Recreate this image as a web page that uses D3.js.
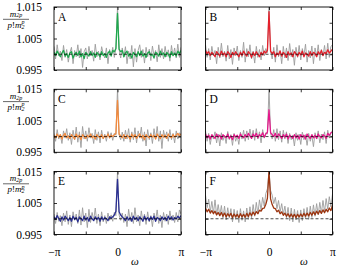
<!DOCTYPE html>
<html>
<head>
<meta charset="utf-8">
<script src="https://cdn.jsdelivr.net/npm/d3@7"></script>
<style>
  body { margin: 0; background: #fff; }
  svg { display: block; }
</style>
</head>
<body>
<div id="chart"></div>
<script>
// values sampled at 81 points from -pi to pi (index 40 is omega = 0)
const grayA = [
  1.0025,0.9985,1.0030,0.9995,1.0010,0.9980,1.0028,0.9990,1.0015,0.9975,
  1.0005,1.0022,0.9970,1.0012,0.9992,1.0030,0.9988,1.0018,0.9958,1.0008,
  1.0020,0.9985,1.0025,0.9995,1.0012,0.9978,1.0032,0.9992,1.0010,0.9982,
  1.0024,1.0002,0.9988,1.0020,0.9970,1.0015,0.9995,1.0022,0.9990,1.0018,
  1.0152,1.0015,0.9988,1.0020,0.9992,1.0024,0.9970,1.0010,0.9985,1.0028,
  0.9960,1.0018,0.9975,1.0012,1.0030,0.9990,1.0015,0.9972,1.0022,0.9992,
  1.0016,0.9980,1.0026,0.9995,1.0012,0.9976,1.0030,0.9990,1.0018,0.9985,
  1.0025,0.9992,1.0014,0.9978,1.0028,0.9994,1.0020,0.9988,1.0032,0.9990,
  1.0022
];
const greenA = [
  1.0006,0.9996,1.0010,1.0000,0.9992,1.0004,1.0012,0.9994,1.0002,0.9990,
  1.0004,1.0008,0.9988,1.0000,1.0006,0.9996,1.0010,0.9992,1.0002,0.9986,
  1.0006,1.0000,0.9994,1.0008,0.9996,1.0004,0.9990,1.0006,1.0000,0.9992,
  1.0008,0.9996,1.0002,0.9990,1.0004,1.0010,0.9994,1.0012,1.0008,1.0018,
  1.0130,1.0016,1.0008,1.0012,0.9992,1.0004,1.0010,0.9994,1.0002,0.9988,
  1.0006,1.0000,0.9992,1.0008,0.9996,1.0010,0.9994,1.0002,0.9990,1.0004,
  1.0008,0.9996,1.0000,0.9988,1.0006,1.0002,0.9994,1.0010,0.9998,1.0004,
  0.9992,1.0006,1.0000,0.9990,1.0008,0.9996,1.0004,0.9994,1.0010,1.0002,
  1.0012
];
const grayB = [
  1.0030,0.9990,1.0018,0.9982,1.0025,0.9995,1.0012,0.9970,1.0022,0.9988,
  1.0035,0.9992,1.0010,0.9978,1.0028,0.9985,1.0015,0.9968,1.0020,0.9995,
  1.0026,0.9980,1.0012,0.9990,1.0038,0.9975,1.0018,0.9992,1.0030,0.9985,
  1.0010,0.9972,1.0025,0.9990,1.0015,0.9982,1.0028,0.9995,1.0018,1.0005,
  1.0152,1.0010,0.9985,1.0022,0.9975,1.0030,0.9992,1.0012,0.9970,1.0025,
  0.9988,1.0020,0.9980,1.0034,0.9992,1.0015,0.9965,1.0022,0.9990,1.0028,
  0.9982,1.0018,0.9995,1.0032,0.9975,1.0012,0.9988,1.0026,0.9970,1.0020,
  0.9992,1.0030,0.9980,1.0015,0.9995,1.0028,0.9985,1.0035,0.9990,1.0025,
  1.0030
];
const redB = [
  1.0012,1.0002,1.0008,0.9996,1.0006,1.0000,0.9992,1.0008,1.0002,0.9994,
  1.0010,0.9998,1.0004,0.9992,1.0008,1.0002,0.9990,1.0006,0.9998,1.0008,
  1.0000,0.9992,1.0006,0.9996,1.0010,1.0000,0.9994,1.0008,1.0002,0.9990,
  1.0006,0.9996,1.0008,1.0000,0.9992,1.0006,0.9998,1.0010,1.0004,1.0012,
  1.0135,1.0010,1.0002,1.0008,0.9992,1.0004,0.9998,1.0010,0.9994,1.0006,
  1.0000,0.9990,1.0008,0.9998,1.0004,0.9992,1.0008,1.0002,0.9994,1.0006,
  0.9998,1.0010,0.9992,1.0004,1.0000,0.9994,1.0008,0.9996,1.0006,1.0002,
  0.9992,1.0008,1.0000,1.0012,0.9996,1.0006,1.0002,1.0014,1.0004,1.0010,
  1.0016
];
const grayC = [
  1.0010,0.9985,1.0022,0.9992,1.0005,0.9978,1.0018,0.9995,1.0025,0.9988,
  1.0012,0.9975,1.0020,0.9990,1.0030,0.9982,1.0015,0.9965,1.0032,0.9992,
  1.0018,0.9985,1.0028,0.9995,1.0010,0.9978,1.0022,0.9988,1.0015,0.9980,
  1.0020,0.9992,1.0008,0.9985,1.0016,0.9995,1.0012,0.9988,1.0010,1.0004,
  1.0152,1.0006,0.9990,1.0014,0.9985,1.0020,0.9992,1.0025,0.9982,1.0015,
  0.9990,1.0028,0.9980,1.0018,0.9995,1.0030,0.9985,1.0015,0.9970,1.0022,
  0.9990,1.0012,0.9978,1.0025,0.9992,1.0032,0.9985,1.0018,0.9962,1.0020,
  0.9995,1.0015,0.9985,1.0022,0.9990,1.0010,0.9980,1.0018,0.9992,1.0012,
  1.0005
];
const orangeC = [
  1.0004,0.9996,1.0008,0.9998,1.0006,0.9992,1.0004,1.0010,0.9996,1.0002,
  0.9994,1.0006,1.0000,0.9992,1.0008,0.9998,1.0004,0.9990,1.0006,1.0000,
  0.9994,1.0004,0.9998,1.0008,0.9996,1.0002,0.9992,1.0006,1.0000,0.9996,
  1.0006,0.9994,1.0002,0.9998,1.0008,0.9996,1.0004,1.0000,1.0006,1.0010,
  1.0115,1.0008,1.0002,0.9996,1.0006,0.9994,1.0004,1.0000,0.9992,1.0008,
  0.9998,1.0006,0.9994,1.0002,1.0008,0.9996,1.0004,0.9990,1.0006,1.0000,
  0.9996,1.0006,0.9998,1.0004,0.9992,1.0008,1.0000,0.9994,1.0006,0.9998,
  1.0004,0.9994,1.0008,1.0000,0.9996,1.0006,0.9998,1.0004,1.0010,1.0002,
  1.0008
];
const grayD = [
  1.0018,0.9985,1.0010,0.9975,1.0005,0.9992,1.0015,0.9980,1.0008,0.9970,
  1.0012,0.9988,1.0004,0.9978,1.0016,0.9990,1.0006,0.9972,1.0010,0.9985,
  1.0002,0.9975,1.0014,0.9992,1.0020,0.9985,1.0018,0.9990,1.0024,0.9995,
  1.0020,0.9988,1.0025,0.9992,1.0015,0.9980,1.0022,0.9995,1.0012,1.0008,
  1.0152,1.0010,0.9992,1.0022,0.9985,1.0025,0.9990,1.0018,0.9982,1.0020,
  0.9992,1.0015,0.9978,1.0010,0.9990,1.0005,0.9970,1.0012,0.9988,1.0008,
  0.9975,1.0014,0.9990,1.0006,0.9972,1.0010,0.9985,1.0004,0.9968,1.0012,
  0.9992,1.0018,0.9980,1.0008,0.9990,1.0015,0.9978,1.0020,0.9995,1.0010,
  1.0020
];
const magentaD = [
  1.0008,0.9996,1.0004,0.9992,1.0006,1.0000,0.9994,1.0008,0.9998,1.0004,
  0.9992,1.0006,1.0000,0.9996,1.0008,0.9994,1.0002,0.9990,1.0006,0.9998,
  1.0004,0.9994,1.0008,1.0000,0.9996,1.0006,0.9998,1.0010,1.0002,0.9994,
  1.0008,1.0000,1.0010,0.9996,1.0006,1.0002,1.0012,0.9998,1.0008,1.0014,
  1.0085,1.0012,1.0006,1.0000,1.0010,0.9996,1.0008,1.0002,0.9994,1.0006,
  0.9998,1.0008,0.9992,1.0004,1.0000,0.9994,1.0006,0.9996,1.0004,0.9992,
  1.0006,0.9998,1.0004,0.9992,1.0008,1.0000,0.9994,1.0006,0.9996,1.0004,
  0.9994,1.0008,1.0000,0.9996,1.0006,1.0002,0.9994,1.0010,1.0004,1.0012,
  1.0014
];
const grayE = [
  1.0015,0.9985,1.0020,0.9992,1.0010,0.9978,1.0018,0.9990,1.0025,0.9982,
  1.0012,0.9975,1.0022,0.9995,1.0015,0.9985,1.0028,0.9980,1.0035,0.9990,
  1.0018,0.9972,1.0030,0.9988,1.0020,0.9995,1.0034,0.9985,1.0015,0.9978,
  1.0022,0.9990,1.0010,0.9985,1.0018,0.9995,1.0012,0.9992,1.0020,1.0010,
  1.0152,1.0012,0.9995,1.0018,0.9988,1.0015,0.9975,1.0030,0.9992,1.0020,
  0.9985,1.0035,0.9990,1.0012,0.9978,1.0025,0.9992,1.0015,0.9982,1.0022,
  0.9990,1.0010,0.9975,1.0018,0.9995,1.0028,0.9985,1.0012,0.9972,1.0020,
  0.9992,1.0015,0.9982,1.0025,0.9995,1.0012,0.9988,1.0020,0.9990,1.0028,
  1.0015
];
const blueE = [
  1.0006,0.9998,1.0010,1.0000,0.9992,1.0006,0.9996,1.0008,1.0002,0.9994,
  1.0004,0.9992,1.0008,0.9998,1.0004,0.9990,1.0006,1.0000,0.9994,1.0008,
  0.9996,1.0004,0.9992,1.0008,1.0000,0.9994,1.0006,0.9998,1.0004,0.9992,
  1.0006,0.9996,1.0004,1.0000,0.9994,1.0006,1.0002,1.0006,1.0012,1.0024,
  1.0125,1.0022,1.0012,1.0006,1.0000,0.9994,1.0006,0.9996,1.0004,0.9992,
  1.0008,0.9998,1.0004,0.9994,1.0006,1.0000,0.9992,1.0008,0.9996,1.0004,
  0.9994,1.0006,0.9998,1.0008,0.9992,1.0004,1.0000,0.9994,1.0006,0.9998,
  1.0004,0.9994,1.0008,0.9998,1.0006,0.9996,1.0004,1.0000,1.0008,1.0002,
  1.0010
];
const grayF = [
  1.0075,1.0035,1.0062,1.0022,1.0055,1.0018,1.0060,1.0012,1.0045,1.0010,
  1.0042,1.0002,1.0040,0.9996,1.0035,1.0002,1.0032,0.9990,1.0030,0.9998,
  1.0026,0.9988,1.0032,0.9995,1.0025,0.9990,1.0034,0.9998,1.0038,1.0002,
  1.0045,1.0008,1.0052,1.0015,1.0060,1.0028,1.0068,1.0040,1.0080,1.0095,
  1.0152,1.0090,1.0075,1.0048,1.0068,1.0032,1.0058,1.0022,1.0048,1.0014,
  1.0040,1.0002,1.0036,0.9994,1.0034,0.9990,1.0030,0.9996,1.0026,0.9988,
  1.0028,0.9994,1.0032,1.0000,1.0036,0.9998,1.0040,1.0004,1.0044,1.0008,
  1.0048,1.0012,1.0052,1.0018,1.0058,1.0022,1.0064,1.0030,1.0070,1.0038,
  1.0078
];
const brownF = [
  1.0034,1.0022,1.0030,1.0018,1.0026,1.0016,1.0024,1.0012,1.0020,1.0010,
  1.0020,1.0008,1.0018,1.0006,1.0016,1.0008,1.0017,1.0004,1.0015,1.0006,
  1.0014,1.0004,1.0016,1.0006,1.0014,1.0005,1.0017,1.0007,1.0019,1.0010,
  1.0021,1.0012,1.0023,1.0016,1.0027,1.0024,1.0033,1.0034,1.0046,1.0065,
  1.0150,1.0063,1.0045,1.0034,1.0032,1.0022,1.0027,1.0016,1.0022,1.0011,
  1.0018,1.0008,1.0016,1.0006,1.0015,1.0005,1.0014,1.0004,1.0014,1.0006,
  1.0015,1.0007,1.0017,1.0008,1.0018,1.0009,1.0020,1.0011,1.0022,1.0013,
  1.0024,1.0015,1.0026,1.0017,1.0028,1.0019,1.0030,1.0022,1.0034,1.0026,
  1.0042
];

const panelNames = ['A', 'B', 'C', 'D', 'E', 'F'];
const grays = [grayA, grayB, grayC, grayD, grayE, grayF];
const colored = [greenA, redB, orangeC, magentaD, blueE, brownF];
const colors = ['#1fa84e', '#e5202b', '#f28a3d', '#e5178b', '#2a2f92', '#9c340f'];

const yTicks = [0.995, 1.000, 1.005, 1.010, 1.015];
const yLabels = [0.995, 1.005, 1.015];
const xTicks = [-Math.PI, -Math.PI / 2, 0, Math.PI / 2, Math.PI];
const xLabels = { [-Math.PI]: '\u2212\u03c0', 0: '0', [Math.PI]: '\u03c0' };

// layout
const width = 339, height = 267;
const colX = [54, 205.5];
const rowY = [7, 89.3, 171.5];
const pw = 127, ph = 63;
const serif = '"Liberation Serif", "DejaVu Serif", serif';

const svg = d3.select('#chart')
  .append('svg')
  .attr('width', width)
  .attr('height', height)
  .style('font-family', serif);

svg.append('defs').append('clipPath')
  .attr('id', 'clip')
  .append('rect')
  .attr('width', pw)
  .attr('height', ph);

const x = d3.scaleLinear().domain([-Math.PI, Math.PI]).range([0, pw]);
const y = d3.scaleLinear().domain([0.995, 1.015]).range([ph, 0]);

// omega grid of the samples
const omega = (i, n) => -Math.PI + 2 * Math.PI * i / (n - 1);

const line = d3.line()
  .x((d, i, arr) => x(omega(i, arr.length)))
  .y(d => y(d));

panelNames.forEach((name, k) => {
  const col = k % 2, row = Math.floor(k / 2);
  const g = svg.append('g')
    .attr('transform', `translate(${colX[col]}, ${rowY[row]})`);

  const plot = g.append('g').attr('clip-path', 'url(#clip)');

  plot.append('path')
    .datum(grays[k])
    .attr('d', line)
    .attr('fill', 'none')
    .attr('stroke', '#9c9c9c')
    .attr('stroke-width', 0.9);

  plot.append('path')
    .datum(colored[k])
    .attr('d', line)
    .attr('fill', 'none')
    .attr('stroke', colors[k])
    .attr('stroke-width', 1.3)
    .attr('stroke-linejoin', 'round');

  plot.append('line')
    .attr('x1', 0).attr('x2', pw)
    .attr('y1', y(1)).attr('y2', y(1))
    .attr('stroke', '#000')
    .attr('stroke-width', 0.7)
    .attr('stroke-dasharray', '3,2');

  // axes with inward ticks
  const bottom = d3.axisBottom(x).tickValues(xTicks).tickSize(-3).tickPadding(13)
    .tickFormat(d => row === 2 ? (xLabels[d] || '') : '');
  const top = d3.axisTop(x).tickValues(xTicks).tickSize(-3).tickFormat('');
  const left = d3.axisLeft(y).tickValues(yTicks).tickSize(-3).tickPadding(12)
    .tickFormat(d => col === 0 && yLabels.includes(d) ? d3.format('.3f')(d) : '');
  const right = d3.axisRight(y).tickValues(yTicks).tickSize(-3).tickFormat('');

  g.append('g').attr('transform', `translate(0, ${ph})`).call(bottom);
  g.append('g').call(top);
  g.append('g').call(left);
  g.append('g').attr('transform', `translate(${pw}, 0)`).call(right);

  g.selectAll('.domain').remove();
  g.selectAll('.tick line').attr('stroke', '#000').attr('stroke-width', 0.8);
  g.selectAll('.tick text')
    .attr('font-family', serif)
    .attr('font-size', 11.5)
    .attr('fill', '#000');

  g.append('rect')
    .attr('width', pw)
    .attr('height', ph)
    .attr('fill', 'none')
    .attr('stroke', '#000')
    .attr('stroke-width', 0.9);

  g.append('text')
    .attr('x', 4)
    .attr('y', 13.5)
    .attr('font-size', 11.5)
    .text(name);

  if (col === 0) {
    // y label: m_2p / (p! m_2^p)
    const lab = svg.append('g').attr('transform', `translate(16, ${rowY[row]})`);
    const num = lab.append('text')
      .attr('y', 9.5)
      .attr('text-anchor', 'middle')
      .attr('font-size', 9)
      .attr('font-style', 'italic');
    num.append('tspan').text('m');
    num.append('tspan').attr('font-size', 6).attr('dy', 0.8).text('2p');

    lab.append('line')
      .attr('x1', -13).attr('x2', 13)
      .attr('y1', 12.3).attr('y2', 12.3)
      .attr('stroke', '#000')
      .attr('stroke-width', 0.6);

    const den = lab.append('text')
      .attr('y', 20.5)
      .attr('text-anchor', 'middle')
      .attr('font-size', 9)
      .attr('font-style', 'italic');
    den.append('tspan').text('p');
    den.append('tspan').attr('font-style', 'normal').text('!');
    den.append('tspan').text('m');
    den.append('tspan').attr('font-size', 6).attr('dy', 1).text('2');
    den.append('tspan').attr('font-size', 6).attr('dx', -3).attr('dy', -4.5).text('p');
  }

  if (row === 2) {
    g.append('text')
      .attr('x', col === 0 ? 77 : 94.5)
      .attr('y', 93)
      .attr('font-size', 11)
      .attr('font-style', 'italic')
      .text('\u03c9');
  }
});
</script>
</body>
</html>
